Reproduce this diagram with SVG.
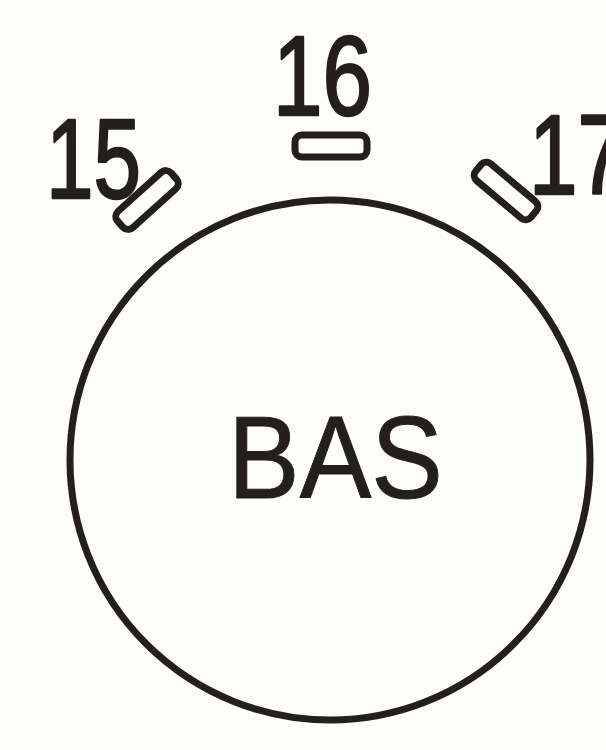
<svg xmlns="http://www.w3.org/2000/svg" width="606" height="750" viewBox="0 0 606 750">
<style>
.ink{fill:none;stroke:#231f1f;stroke-width:7}
.num{font-family:"Liberation Sans",Arial,sans-serif;font-size:114px;fill:#231f1f;stroke:#231f1f;stroke-width:2.5;stroke-linejoin:round}
.lbl{font-family:"Liberation Sans",Arial,sans-serif;font-size:116px;fill:#231f1f;stroke:#231f1f;stroke-width:1}
</style>
<defs>
<rect id="mark" x="-36" y="-11" width="72" height="22" rx="7" ry="7"/>
</defs>
<rect width="606" height="750" fill="#fdfdfb"/>
<g id="knob">
<circle class="ink" cx="330" cy="460" r="260"/>
<text class="lbl" x="228" y="498" textLength="215" lengthAdjust="spacingAndGlyphs">BAS</text>
</g>
<g id="pos15">
<text class="num" x="46" y="198" textLength="95" lengthAdjust="spacingAndGlyphs">15</text>
<use href="#mark" class="ink" transform="translate(147,200) rotate(-42)"/>
</g>
<g id="pos16">
<text class="num" x="273" y="115" textLength="99" lengthAdjust="spacingAndGlyphs">16</text>
<use href="#mark" class="ink" transform="translate(331,146)"/>
</g>
<g id="pos17">
<text class="num" x="529" y="194" textLength="97" lengthAdjust="spacingAndGlyphs">17</text>
<use href="#mark" class="ink" transform="translate(506,191) rotate(40)"/>
</g>
<g id="connectors"/>
</svg>
